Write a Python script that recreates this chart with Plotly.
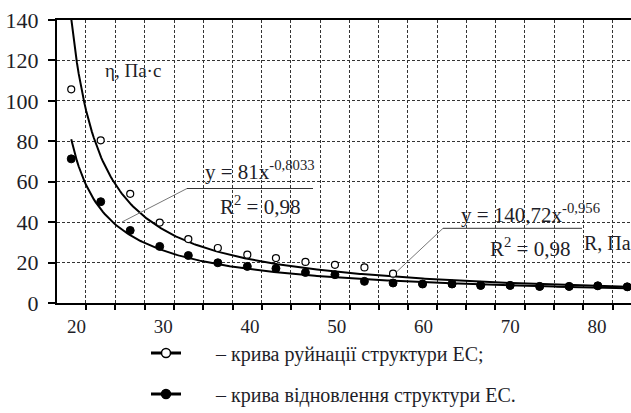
import numpy as np
import plotly.graph_objects as go

# ---- data ----
R = [19.4, 22.8, 26.2, 29.6, 32.9, 36.3, 39.7, 43.0, 46.4, 49.8,
     53.2, 56.5, 59.9, 63.3, 66.6, 70.0, 73.4, 76.8, 80.1, 83.5]
eta_destroy = [105.7, 80.5, 54.0, 39.8, 31.6, 27.2, 23.9, 22.2, 20.3, 18.9,
               17.6, 14.5, 9.4, 9.4, 8.7, 8.7, 8.2, 8.2, 8.5, 8.0]
eta_restore = [71.3, 50.1, 35.9, 28.0, 23.5, 19.9, 18.1, 17.1, 15.1, 14.0,
               10.7, 9.9, 9.4, 9.4, 8.7, 8.7, 8.2, 8.2, 8.5, 8.0]
x_labels = [20, 30, 40, 50, 60, 70, 80]
y_ticks = [0, 20, 40, 60, 80, 100, 120, 140]
trend_destroy = (140.72, -0.956)
trend_restore = (81.0, -0.8033)
legend_texts = ["– крива руйнації структури ЕС;", "– крива відновлення структури ЕС."]

FONT = "Times New Roman"
TXT = "#1e1e28"
W, H = 631, 413
L, Rm, T, B = 57, 0, 20, 110


def px(xp):
    return (xp - L) / (W - L - Rm)


def py(yp):
    return (H - B - yp) / (H - T - B)


idx = np.arange(1, len(R) + 1)
t = np.linspace(1, len(R), 300)
Rt = np.interp(t, idx, R)

fig = go.Figure()
for (a, b) in (trend_destroy, trend_restore):
    fig.add_trace(go.Scatter(x=Rt, y=a * t ** b, mode="lines",
                             line=dict(color="black", width=2),
                             showlegend=False, hoverinfo="skip"))

fig.add_trace(go.Scatter(x=R, y=eta_destroy, mode="markers", showlegend=False,
                         marker=dict(symbol="circle", size=7, color="white",
                                     line=dict(color="black", width=1.2))))
fig.add_trace(go.Scatter(x=R, y=eta_restore, mode="markers", showlegend=False,
                         marker=dict(symbol="circle", size=8, color="black",
                                     line=dict(color="black", width=1))))

pad = "\u00a0" * 6
fig.add_trace(go.Scatter(x=[None], y=[None], mode="lines+markers",
                         name=pad + legend_texts[0], legend="legend",
                         line=dict(color="black", width=3),
                         marker=dict(size=9, color="white", line=dict(color="black", width=1.5))))
fig.add_trace(go.Scatter(x=[None], y=[None], mode="lines+markers",
                         name=pad + legend_texts[1], legend="legend2",
                         line=dict(color="black", width=3),
                         marker=dict(size=9, color="black", line=dict(color="black", width=1.5))))

mids = [(R[i] + R[i + 1]) / 2 for i in range(len(R) - 1)]
fig.update_xaxes(
    range=[17.76, 83.93], tickmode="array", tickvals=x_labels,
    ticktext=[str(v) for v in x_labels], ticks="", showgrid=False,
    zeroline=False, showline=True, linecolor="black", linewidth=2, mirror=True,
    tickfont=dict(family=FONT, size=19, color=TXT), ticklabelstandoff=5,
    minor=dict(tickmode="array", tickvals=mids, showgrid=True, gridcolor="#333333",
               griddash="3px,2px", gridwidth=1, ticks="outside", ticklen=5,
               tickwidth=1.5, tickcolor="black"),
)
fig.update_yaxes(
    range=[0, 140], tickmode="array", tickvals=y_ticks, ticks="outside",
    ticklen=7, tickwidth=2, tickcolor="black", showgrid=True, gridcolor="#333333",
    griddash="3px,2px", gridwidth=1, zeroline=False, showline=True,
    linecolor="black", linewidth=2,
    tickfont=dict(family=FONT, size=22, color=TXT), ticklabelstandoff=5,
)


def note(x, y, text, size):
    return dict(x=px(x), y=py(y), xref="paper", yref="paper", text=text,
                xanchor="center", yanchor="middle", showarrow=False,
                font=dict(family=FONT, size=size, color=TXT))


ann = [
    note(133, 70, "η, Па·с", 19),
    note(260, 170, "y = 81x<sup>-0,8033</sup>", 21),
    note(260, 205, "R<sup>2</sup> = 0,98", 21),
    note(530, 213, "y = 140,72x<sup>-0,956</sup>", 21),
    note(530, 247, "R<sup>2</sup> = 0,98", 21),
    note(607, 243, "R, Па", 20),
]

shapes = [
    # white boxes behind the two axis captions (they hide the grid)
    dict(type="rect", xref="paper", yref="paper", layer="between",
         x0=px(93), x1=px(187), y0=py(97), y1=py(57),
         line=dict(width=0), fillcolor="white"),
    dict(type="rect", xref="paper", yref="paper", layer="between",
         x0=px(583), x1=px(631), y0=py(264), y1=py(231),
         line=dict(width=0), fillcolor="white"),
    dict(type="line", xref="paper", yref="paper", x0=px(187), y0=py(188.5),
         x1=px(313), y1=py(188.5), line=dict(color="#333333", width=1)),
    dict(type="line", xref="paper", yref="paper", x0=px(187), y0=py(188.5),
         x1=px(122), y1=py(222), line=dict(color="#777777", width=1)),
    dict(type="line", xref="paper", yref="paper", x0=px(443), y0=py(228.3),
         x1=px(582), y1=py(228.3), line=dict(color="#333333", width=1)),
    dict(type="line", xref="paper", yref="paper", x0=px(443), y0=py(228.3),
         x1=px(397), y1=py(271.5), line=dict(color="#777777", width=1)),
]

leg_common = dict(xref="container", yref="container", xanchor="left", yanchor="middle",
                  font=dict(family=FONT, size=20, color=TXT), bgcolor="rgba(0,0,0,0)",
                  borderwidth=0, itemwidth=30)
fig.update_layout(
    width=W, height=H, margin=dict(l=L, r=Rm, t=T, b=B, autoexpand=False),
    font=dict(family=FONT, color=TXT),
    plot_bgcolor="white", paper_bgcolor="white",
    annotations=ann, shapes=shapes,
    legend=dict(x=146 / W, y=1 - 353 / H, **leg_common),
    legend2=dict(x=146 / W, y=1 - 394 / H, **leg_common),
)

fig.write_html("out.html")
